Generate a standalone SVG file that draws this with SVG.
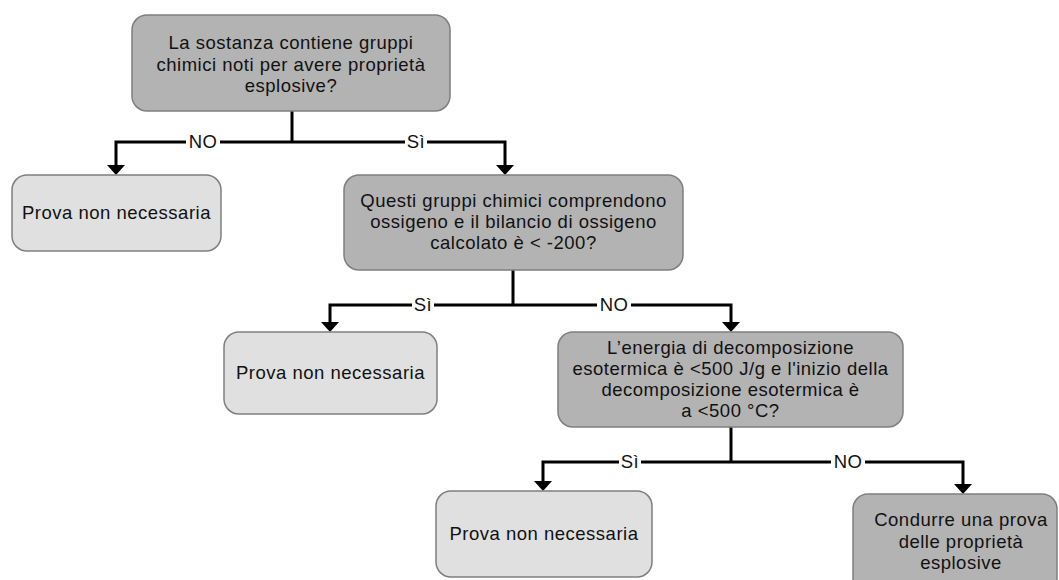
<svg xmlns="http://www.w3.org/2000/svg" width="1059" height="580" viewBox="0 0 1059 580">
<style>
.dark{fill:#b3b3b3;stroke:#7f7f7f;stroke-width:1.5}
.light{fill:#e0e0e0;stroke:#7f7f7f;stroke-width:1.5}
text{font-family:"Liberation Sans",Arial,sans-serif;font-size:18.5px;letter-spacing:0.5px;fill:#111;text-anchor:middle}
.conn{fill:none;stroke:#000;stroke-width:3}
.bg{fill:#fff}
</style>
<defs>
<marker id="arr" markerUnits="userSpaceOnUse" viewBox="0 -9 10 18" markerWidth="10" markerHeight="18" refX="5" refY="0" orient="auto">
<path d="M0,-9 L10,0 L0,9 z" fill="#000"/>
</marker>
</defs>
<rect width="1059" height="580" fill="#fff"/>
<g id="connectors">
<path class="conn" d="M292,111 V142"/>
<path class="conn" d="M292,142 H116 V170" marker-end="url(#arr)"/>
<path class="conn" d="M292,142 H505 V170" marker-end="url(#arr)"/>
<path class="conn" d="M513,270 V305"/>
<path class="conn" d="M513,305 H330 V327" marker-end="url(#arr)"/>
<path class="conn" d="M513,305 H731 V327" marker-end="url(#arr)"/>
<path class="conn" d="M731,427 V462"/>
<path class="conn" d="M731,462 H543 V486" marker-end="url(#arr)"/>
<path class="conn" d="M731,462 H963 V489" marker-end="url(#arr)"/>
<rect class="bg" x="186" y="134" width="34" height="16"/>
<rect class="bg" x="405" y="134" width="22" height="16"/>
<rect class="bg" x="412" y="297" width="22" height="16"/>
<rect class="bg" x="597" y="297" width="34" height="16"/>
<rect class="bg" x="619" y="454" width="22" height="16"/>
<rect class="bg" x="831" y="454" width="34" height="16"/>
<text x="203" y="148">NO</text>
<text x="416" y="148">Sì</text>
<text x="423" y="311">Sì</text>
<text x="614" y="311">NO</text>
<text x="630" y="468">Sì</text>
<text x="848" y="468">NO</text>
</g>
<g id="q1">
<rect class="dark" x="132" y="15" width="318" height="96" rx="15"/>
<text x="291" y="49">La sostanza contiene gruppi</text>
<text x="291" y="70.5">chimici noti per avere proprietà</text>
<text x="291" y="92">esplosive?</text>
</g>
<g id="r1">
<rect class="light" x="12" y="175" width="209" height="76" rx="15"/>
<text x="116.5" y="219">Prova non necessaria</text>
</g>
<g id="q2">
<rect class="dark" x="344" y="175" width="339" height="95" rx="15"/>
<text x="513.5" y="207">Questi gruppi chimici comprendono</text>
<text x="513.5" y="228">ossigeno e il bilancio di ossigeno</text>
<text x="513.5" y="249">calcolato è &lt; -200?</text>
</g>
<g id="r2">
<rect class="light" x="224" y="332" width="213" height="82" rx="15"/>
<text x="330.5" y="379">Prova non necessaria</text>
</g>
<g id="q3">
<rect class="dark" x="558" y="332" width="345" height="95" rx="15"/>
<text x="730.5" y="354">L’energia di decomposizione</text>
<text x="730.5" y="375">esotermica è &lt;500 J/g e l'inizio della</text>
<text x="730.5" y="396">decomposizione esotermica è</text>
<text x="730.5" y="417">a &lt;500 °C?</text>
</g>
<g id="r3">
<rect class="light" x="436" y="491" width="216" height="86" rx="15"/>
<text x="544" y="540">Prova non necessaria</text>
</g>
<g id="r4">
<rect class="dark" x="853" y="494" width="204" height="100" rx="15"/>
<text x="961" y="526">Condurre una prova</text>
<text x="961" y="548">delle proprietà</text>
<text x="961" y="569">esplosive</text>
</g>
</svg>
